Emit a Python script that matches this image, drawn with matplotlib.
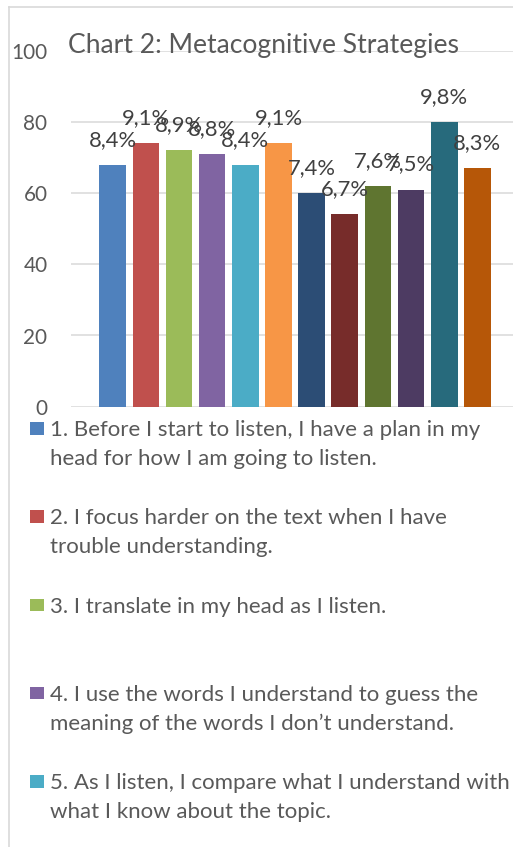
import textwrap
import matplotlib
matplotlib.use("Agg")
import matplotlib.pyplot as plt
from matplotlib.lines import Line2D
from matplotlib.patches import Rectangle

# ---- data ----
categories = [
    "1. Before I start to listen, I have a plan in my head for how I am going to listen.",
    "2. I focus harder on the text when I have trouble understanding.",
    "3. I translate in my head as I listen.",
    "4. I use the words I understand to guess the meaning of the words I don\u2019t understand.",
    "5. As I listen, I compare what I understand with what I know about the topic.",
    "6", "7", "8", "9", "10", "11", "12",
]
values = [68, 74, 72, 71, 68, 74, 60, 54, 62, 61, 80, 67]
pct_labels = ["8,4%", "9,1%", "8,9%", "8,8%", "8,4%", "9,1%",
              "7,4%", "6,7%", "7,6%", "7,5%", "9,8%", "8,3%"]
colors = ["#4F81BD", "#C0504D", "#9BBB59", "#8064A2", "#4BACC6", "#F79646",
          "#2C4D75", "#772C2A", "#5F7530", "#4D3B62", "#276A7C", "#B65708"]
yticks = [0, 20, 40, 60, 80, 100]
title = "Chart 2: Metacognitive Strategies"
n_legend = 5

FAM = ["Lato", "DejaVu Sans"]
W, H = 513, 847
fig = plt.figure(figsize=(W / 100, H / 100), dpi=100)
renderer = fig.canvas.get_renderer()


def fit(text, target_px):
    t = fig.text(0, 0, text, fontsize=10, family=FAM)
    w = t.get_window_extent(renderer).width
    t.remove()
    return 10 * target_px / w


def fx(px):
    return px / W


def fy(py):
    return 1 - py / H


title_fs = fit(title, 391)
legend_fs = fit("1. Before I start to listen, I have a plan in my", 428)
label_fs = fit("8,4%", 48)
tick_fs = fit("100", 36)

ax = fig.add_axes([fx(71), fy(406.7), 1 - fx(71), (406.7 - 50.7) / H])
x = list(range(len(values)))
ax.bar(x, values, width=0.805, color=colors, zorder=3)
ax.set_xlim(-1.258, 12.075)
ax.set_ylim(0, 100)
ax.set_yticks(yticks)
ax.set_xticks([])
ax.yaxis.grid(True, color="#d9d9d9", lw=1.1, zorder=0)
ax.set_axisbelow(True)
for s in ax.spines.values():
    s.set_visible(False)
ax.tick_params(axis="y", length=0, pad=17, labelsize=tick_fs, labelcolor="#595959")
for lab in ax.get_yticklabels():
    lab.set_family(FAM)

for xi, v, lab in zip(x, values, pct_labels):
    ax.annotate(lab, (xi, v), xytext=(0, 18), textcoords="offset points",
                ha="center", va="center", fontsize=label_fs, color="#404040",
                family=FAM, zorder=5, annotation_clip=False)

fig.text(fx(68), fy(46), title, fontsize=title_fs, color="#595959",
         family=FAM, ha="left", va="center")

# chart border
fig.add_artist(Line2D([fx(9), fx(9)], [0, fy(7.3)], color="#d9d9d9", lw=1.2))
fig.add_artist(Line2D([fx(9), 1], [fy(7.3), fy(7.3)], color="#d9d9d9", lw=1.2))

# legend
for i in range(n_legend):
    base = 436 + i * 88.25
    fig.add_artist(Rectangle((fx(30), fy(base - 1.3)), fx(14) - fx(0), 12.7 / H,
                             transform=fig.transFigure, color=colors[i], lw=0))
    lines = textwrap.wrap(categories[i], 48)
    for j, line in enumerate(lines):
        fig.text(fx(50), fy(base + j * 29), line, fontsize=legend_fs,
                 color="#595959", family=FAM, ha="left", va="baseline")

fig.savefig("out.png", dpi=100)
